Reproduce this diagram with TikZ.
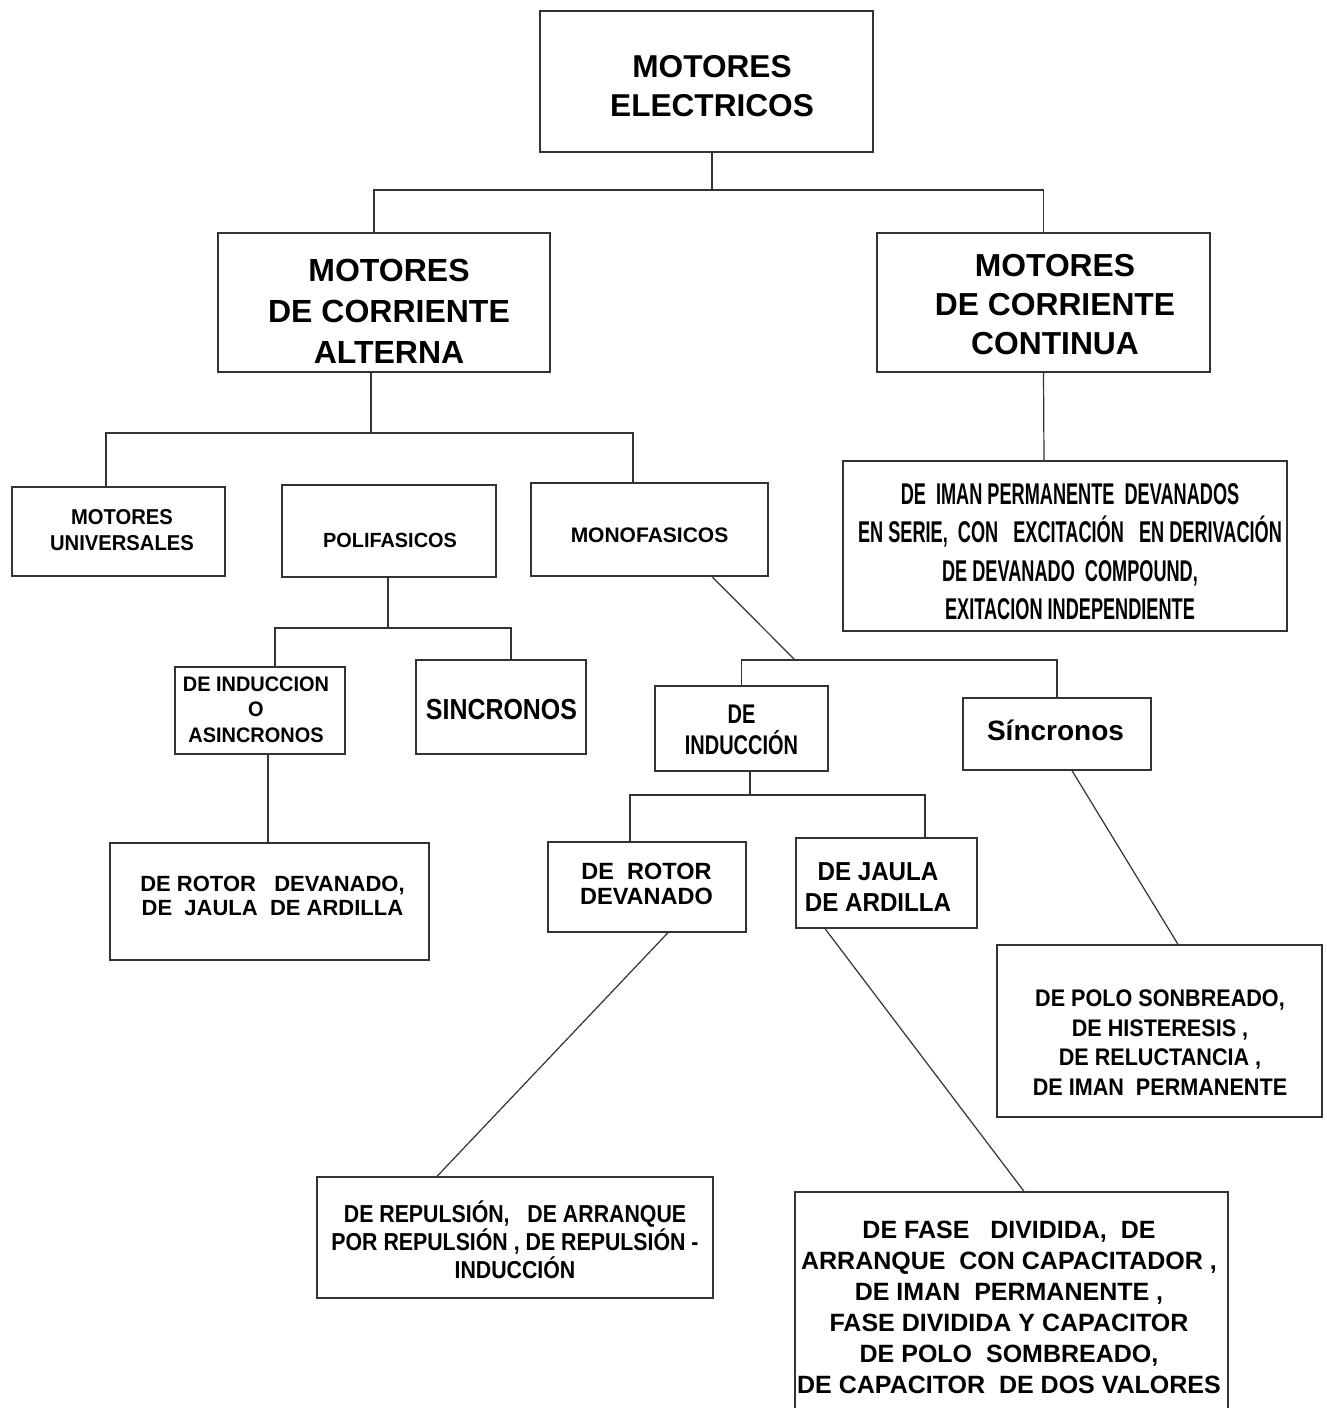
\documentclass[tikz,border=0pt]{standalone}
\usepackage{fontspec}
\setmainfont{Liberation Sans}
\newcommand\fs[2]{\fontsize{#1}{#2}\selectfont}
\newcommand\cnd[1]{\addfontfeatures{FakeStretch=#1}}
\begin{document}
\begin{tikzpicture}[x=1pt,y=-1pt,
  box/.style={draw=black!80, line width=1.3pt, inner sep=0pt},
  lbl/.style={align=center, inner sep=0pt, text=black},
  con/.style={draw=black!80, line width=1.2pt}]
\useasboundingbox[fill=white] (0,0) rectangle (1327,1408);

% boxes
\node[box, minimum width=333, minimum height=141] (top) at (706.5,81.5) {};
\node[box, minimum width=332, minimum height=139] (ac) at (384,302.5) {};
\node[box, minimum width=333, minimum height=139] (dc) at (1043.5,302.5) {};
\node[box, minimum width=213, minimum height=89] (uni) at (118.5,531.5) {};
\node[box, minimum width=214, minimum height=92] (poli) at (389,531) {};
\node[box, minimum width=237, minimum height=93] (mono) at (649.5,529.5) {};
\node[box, minimum width=444, minimum height=170] (dcdet) at (1065,546) {};
\node[box, minimum width=170, minimum height=87] (asinc) at (260,710.5) {};
\node[box, minimum width=170, minimum height=94] (sinc) at (501,707) {};
\node[box, minimum width=173, minimum height=85] (deind) at (741.5,728.5) {};
\node[box, minimum width=188, minimum height=72] (sinc2) at (1057,734) {};
\node[box, minimum width=319, minimum height=117] (rdj) at (269.5,901.5) {};
\node[box, minimum width=198, minimum height=90] (rotor) at (647,887) {};
\node[box, minimum width=181, minimum height=90] (jaula) at (886.5,883) {};
\node[box, minimum width=325, minimum height=172] (polo) at (1159.5,1031) {};
\node[box, minimum width=396, minimum height=121] (rep) at (515,1237.5) {};
\node[box, minimum width=433, minimum height=226] (last) at (1011.5,1305) {};

% texts
\node[lbl, font={\bfseries\fs{31.6}{39}}] (ttop) at (712,86.5) {MOTORES\\ELECTRICOS};
\node[lbl, font={\bfseries\fs{32}{41}}] (tac) at (389,311) {MOTORES\\DE CORRIENTE\\ALTERNA};
\node[lbl, font={\bfseries\fs{31.8}{39}}] (tdc) at (1055,305) {MOTORES\\DE CORRIENTE\\CONTINUA};
\node[lbl, font={\bfseries\fs{21.5}{26}\cnd{0.94}}] (tuni) at (122,530) {MOTORES\\UNIVERSALES};
\node[lbl, font={\bfseries\fs{20.5}{25}\cnd{0.97}}] (tpoli) at (390,540) {POLIFASICOS};
\node[lbl, font={\bfseries\fs{21}{25}}] (tmono) at (649.5,535) {MONOFASICOS};
\node[lbl, font={\bfseries\fs{30}{38.5}\cnd{0.605}}] (tdcdet) at (1070,551.5)
  {DE~~IMAN PERMANENTE~~DEVANADOS\\EN SERIE,~~CON~~~EXCITACIÓN~~~EN DERIVACIÓN\\DE DEVANADO~~COMPOUND,\\EXITACION INDEPENDIENTE};
\node[lbl, font={\bfseries\fs{21}{25.5}\cnd{0.95}}] (tasinc) at (256,709.5) {DE INDUCCION\\O\\ASINCRONOS};
\node[lbl, font={\bfseries\fs{29}{30}\cnd{0.86}}] (tsinc) at (501.5,710) {SINCRONOS};
\node[lbl, font={\bfseries\fs{27}{31}\cnd{0.74}}] (tdeind) at (741.5,729.5) {DE\\INDUCCIÓN};
\node[lbl, font={\bfseries\fs{28}{30}}] (tsinc2) at (1055.5,730) {Síncronos};
\node[lbl, font={\bfseries\fs{22}{24}}] (trdj) at (272.5,896) {DE ROTOR~~~DEVANADO,\\DE~~JAULA~~DE ARDILLA};
\node[lbl, font={\bfseries\fs{23.5}{25}}] (trotor) at (646.5,883.5) {DE~~ROTOR\\DEVANADO};
\node[lbl, font={\bfseries\fs{26}{31}\cnd{0.93}}] (tjaula) at (878,887.5) {DE JAULA\\DE ARDILLA};
\node[lbl, font={\bfseries\fs{24}{29.5}\cnd{0.9}}] (tpolo) at (1160,1042.5)
  {DE POLO SONBREADO,\\DE HISTERESIS ,\\DE RELUCTANCIA ,\\DE IMAN~~PERMANENTE};
\node[lbl, font={\bfseries\fs{24.5}{28}\cnd{0.87}}] (trep) at (515,1240)
  {DE REPULSIÓN,~~~DE ARRANQUE\\POR REPULSIÓN , DE REPULSIÓN -\\INDUCCIÓN};
\node[lbl, font={\bfseries\fs{25}{31}}] (tlast) at (1009,1307.5)
  {DE FASE~~~DIVIDIDA,~~DE\\ARRANQUE~~CON CAPACITADOR ,\\DE IMAN~~PERMANENTE ,\\FASE DIVIDIDA Y CAPACITOR\\DE POLO~~SOMBREADO,\\DE CAPACITOR~~DE DOS VALORES};

% connectors
\coordinate (j1) at (712,190);
\draw[con] ([xshift=5.5]top.south) -- (j1);
\draw[con] ([xshift=-10]ac.north) |- (j1) -| (dc.north);

\coordinate (j2) at (371,433);
\draw[con] ([xshift=-13]ac.south) -- (j2);
\draw[con] ([xshift=-12.5]uni.north) |- (j2) -| ([xshift=-16.5]mono.north);

\coordinate (j3) at (388,628);
\draw[con] ([xshift=-1]poli.south) -- (j3);
\draw[con] ([xshift=15]asinc.north) |- (j3) -| ([xshift=10]sinc.north);
\draw[con] ([xshift=8]asinc.south) -- ([xshift=-1.5]rdj.north);

\coordinate (j4) at (795,660);
\draw[con] ([xshift=62.5]mono.south) -- (j4);
\draw[con] (deind.north) |- (j4) -| (sinc2.north);

\coordinate (j5) at (750,795);
\draw[con] ([xshift=8.5]deind.south) -- (j5);
\draw[con] ([xshift=-17]rotor.north) |- (j5) -| ([xshift=38.5]jaula.north);

\draw[con] ([xshift=21]rotor.south) -- ([xshift=-78]rep.north);
\draw[con] ([xshift=-61.5]jaula.south) -- ([xshift=12.5]last.north);
\draw[con] ([xshift=15]sinc2.south) -- ([xshift=18.5]polo.north);
\draw[con] (dc.south) -- ([xshift=-21]dcdet.north);
\end{tikzpicture}
\end{document}
